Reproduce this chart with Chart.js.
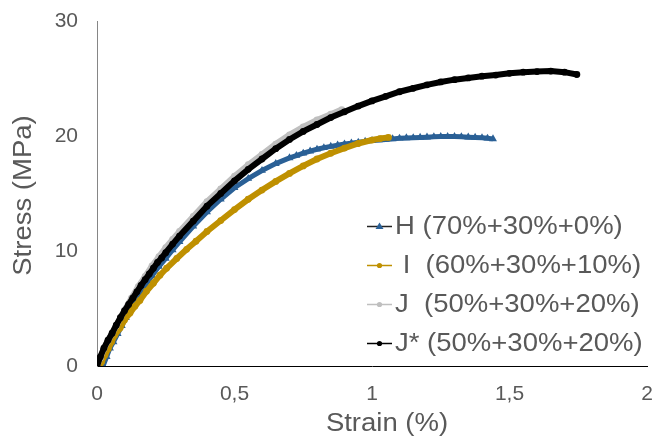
<!DOCTYPE html>
<html>
<head>
<meta charset="utf-8">
<script src="https://cdn.jsdelivr.net/npm/chart.js@4.4.0/dist/chart.umd.min.js"></script>
<style>
  html, body { margin: 0; padding: 0; background: #fff; }
</style>
</head>
<body>
<canvas id="chart" width="653" height="439"></canvas>
<script>
const LABELS = ['H (70%+30%+0%)', ' I  (60%+30%+10%)', 'J  (50%+30%+20%)', 'J* (50%+30%+20%)']
const X_TITLE = 'Strain (%)'
const Y_TITLE = 'Stress (MPa)'
const X_TICKS = [0, 0.5, 1, 1.5, 2]
const Y_TICKS = [0, 10, 20, 30]

// H (70%+30%+0%)
const strainH = [0.022, 0.035, 0.047, 0.06, 0.075, 0.09, 0.105, 0.12, 0.135, 0.15, 0.175, 0.2, 0.225, 0.25, 0.275, 0.3,
    0.35, 0.4, 0.45, 0.5, 0.55, 0.6, 0.65, 0.7, 0.725, 0.75, 0.775, 0.8, 0.825, 0.85, 0.875, 0.9, 0.925, 0.95, 0.975,
    1.0, 1.025, 1.05, 1.075, 1.1, 1.125, 1.15, 1.175, 1.2, 1.225, 1.25, 1.275, 1.3, 1.325, 1.35, 1.375, 1.4, 1.42, 1.44]
const stressH = [0, 0.8, 1.55, 2.1, 2.8, 3.5, 4.2, 4.85, 5.45, 6.05, 7.0, 7.85, 8.65, 9.35, 10.1, 10.8,
    12.15, 13.4, 14.5, 15.5, 16.3, 17.0, 17.6, 18.1, 18.3, 18.5, 18.68, 18.85, 18.98, 19.1, 19.2, 19.3, 19.38, 19.45, 19.53,
    19.6, 19.65, 19.7, 19.75, 19.8, 19.83, 19.85, 19.88, 19.9, 19.93, 19.95, 19.95, 19.95, 19.93, 19.9, 19.88, 19.85, 19.8, 19.75]

// I (60%+30%+10%)
const strainI = [0.01, 0.017, 0.029, 0.041, 0.053, 0.065, 0.084, 0.1, 0.12, 0.138, 0.156, 0.18, 0.205, 0.229, 0.253, 0.29, 0.326, 0.36,
    0.4, 0.45, 0.5, 0.55, 0.6, 0.65, 0.7, 0.75, 0.8, 0.85, 0.9, 0.95, 1.0, 1.03, 1.06]
const stressI = [0, 0.37, 0.96, 1.5, 2.1, 2.7, 3.3, 4.0, 4.6, 5.2, 5.7, 6.5, 7.2, 7.9, 8.5, 9.35, 10.15, 10.85,
    11.7, 12.65, 13.6, 14.5, 15.3, 16.05, 16.75, 17.4, 18.0, 18.5, 18.95, 19.35, 19.65, 19.78, 19.88]

// J (50%+30%+20%)
const strainJ = [0, 0.012, 0.025, 0.04, 0.055, 0.07, 0.085, 0.1, 0.125, 0.15, 0.175, 0.2, 0.225, 0.25, 0.275, 0.3,
    0.35, 0.4, 0.45, 0.5, 0.55, 0.6, 0.65, 0.7, 0.75, 0.8, 0.85, 0.89]
const stressJ = [0, 0.7, 1.5, 2.2, 2.85, 3.5, 4.2, 4.85, 5.9, 6.9, 7.8, 8.7, 9.5, 10.3, 11.0, 11.7,
    13.0, 14.3, 15.4, 16.5, 17.5, 18.4, 19.3, 20.1, 20.8, 21.4, 21.9, 22.3]

// J* (50%+30%+20%)
const strainJs = [0, 0.012, 0.025, 0.04, 0.055, 0.07, 0.085, 0.1, 0.115, 0.13, 0.145, 0.16, 0.175, 0.19, 0.205, 0.22, 0.235, 0.25, 0.275, 0.3,
    0.35, 0.4, 0.45, 0.5, 0.55, 0.6, 0.65, 0.7, 0.75, 0.8, 0.85, 0.9, 0.95, 1.0, 1.05, 1.1, 1.15, 1.2, 1.25, 1.3, 1.35, 1.4, 1.45, 1.5, 1.55, 1.6, 1.65, 1.7, 1.745]
const stressJs = [0, 0.8, 1.55, 2.25, 2.85, 3.55, 4.2, 4.8, 5.35, 5.9, 6.45, 7.0, 7.5, 8.0, 8.5, 9.0, 9.4, 9.85, 10.6, 11.3,
    12.6, 13.9, 15.0, 16.1, 17.1, 18.0, 18.9, 19.7, 20.4, 21.0, 21.6, 22.1, 22.6, 23.05, 23.45, 23.85, 24.15, 24.45, 24.7, 24.9, 25.05, 25.2, 25.3, 25.45, 25.55, 25.6, 25.65, 25.55, 25.35]

const TEXT = '#595959'
const FONT = '"Liberation Sans", Arial, sans-serif'
const COLORS = ['#2A6096', '#BF9000', '#BFBFBF', '#000000']
const LEGEND_LINES = ['#222222', '#BF9000', '#BFBFBF', '#000000']
const STYLES = ['triangle', 'circle', 'circle', 'circle']

function toPoints(xs, ys) {
    return xs.map((x, i) => ({x: x, y: ys[i]}))
}

function makeDataset(i, xs, ys) {
    var tri = STYLES[i] == 'triangle'
    return {
        label: LABELS[i],
        data: toPoints(xs, ys),
        borderColor: COLORS[i],
        backgroundColor: COLORS[i],
        borderWidth: tri ? 5 : 6,
        pointStyle: STYLES[i],
        pointRadius: tri ? 4.6 : 3.4,
        pointBorderWidth: 0,
        pointBackgroundColor: COLORS[i],
        order: 3 - i,
        tension: 0
    }
}

// the scales must not push the plot area around
function noPadding(scale) {
    scale.paddingTop = 0
    scale.paddingBottom = 0
    scale.paddingLeft = 0
    scale.paddingRight = 0
}

// Axis titles and the legend inside the plot, Excel style
const overlay = {
    id: 'overlay',
    afterDraw(chart) {
        var ctx = chart.ctx
        var area = chart.chartArea
        ctx.save()
        ctx.fillStyle = TEXT
        ctx.font = '25px ' + FONT
        ctx.textAlign = 'center'
        ctx.textBaseline = 'middle'
        ctx.save()
        ctx.translate((area.left + area.right) / 2 + 15, 424)
        ctx.scale(1.1, 1)
        ctx.fillText(X_TITLE, 0, 0)
        ctx.restore()
        ctx.save()
        ctx.translate(24, (area.top + area.bottom) / 2 + 2)
        ctx.rotate(-Math.PI / 2)
        ctx.scale(1.1, 1)
        ctx.fillText(Y_TITLE, 0, 0)
        ctx.restore()

        ctx.textAlign = 'left'
        for (var i = 0; i < LABELS.length; i++) {
            var y = 226.5 + i * 39
            var x0 = 367
            ctx.strokeStyle = LEGEND_LINES[i]
            ctx.lineWidth = 1.5
            ctx.beginPath()
            ctx.moveTo(x0, y)
            ctx.lineTo(x0 + 25, y)
            ctx.stroke()
            ctx.fillStyle = COLORS[i]
            ctx.beginPath()
            if (STYLES[i] == 'triangle') {
                ctx.moveTo(x0 + 12.5, y - 4)
                ctx.lineTo(x0 + 16.5, y + 2.5)
                ctx.lineTo(x0 + 8.5, y + 2.5)
                ctx.closePath()
            } else {
                ctx.arc(x0 + 12.5, y, 2.6, 0, Math.PI * 2)
            }
            ctx.fill()
            ctx.fillStyle = TEXT
            ctx.save()
            ctx.translate(x0 + 28, y + 1)
            ctx.scale(1.1, 1)
            ctx.fillText(chart.data.datasets[i].label, 0, 0)
            ctx.restore()
        }
        ctx.restore()
    }
}

new Chart(document.getElementById('chart'), {
    type: 'line',
    data: {
        datasets: [
            makeDataset(0, strainH, stressH),
            makeDataset(1, strainI, stressI),
            makeDataset(2, strainJ, stressJ),
            makeDataset(3, strainJs, stressJs)
        ]
    },
    options: {
        responsive: false,
        animation: false,
        devicePixelRatio: 1,
        layout: {padding: {top: 21, right: 6, left: 0, bottom: 0}},
        plugins: {
            legend: {display: false},
            tooltip: {enabled: false}
        },
        scales: {
            x: {
                type: 'linear',
                min: 0,
                max: 2,
                afterFit: (scale) => { scale.height = 73; noPadding(scale) },
                afterBuildTicks: (scale) => { scale.ticks = X_TICKS.map(v => ({value: v})) },
                grid: {display: false, drawTicks: false},
                border: {display: true, color: '#000000', width: 1},
                ticks: {
                    color: TEXT,
                    font: {family: FONT, size: 21},
                    padding: 16,
                    maxRotation: 0,
                    callback: (val) => String(val).replace('.', ',')
                }
            },
            y: {
                min: 0,
                max: 30,
                afterFit: (scale) => { scale.width = 97; noPadding(scale) },
                afterBuildTicks: (scale) => { scale.ticks = Y_TICKS.map(v => ({value: v})) },
                grid: {display: false, drawTicks: false},
                border: {display: true, color: '#868686', width: 1},
                ticks: {
                    color: TEXT,
                    font: {family: FONT, size: 21},
                    padding: 19
                }
            }
        }
    },
    plugins: [overlay]
})
</script>
</body>
</html>
